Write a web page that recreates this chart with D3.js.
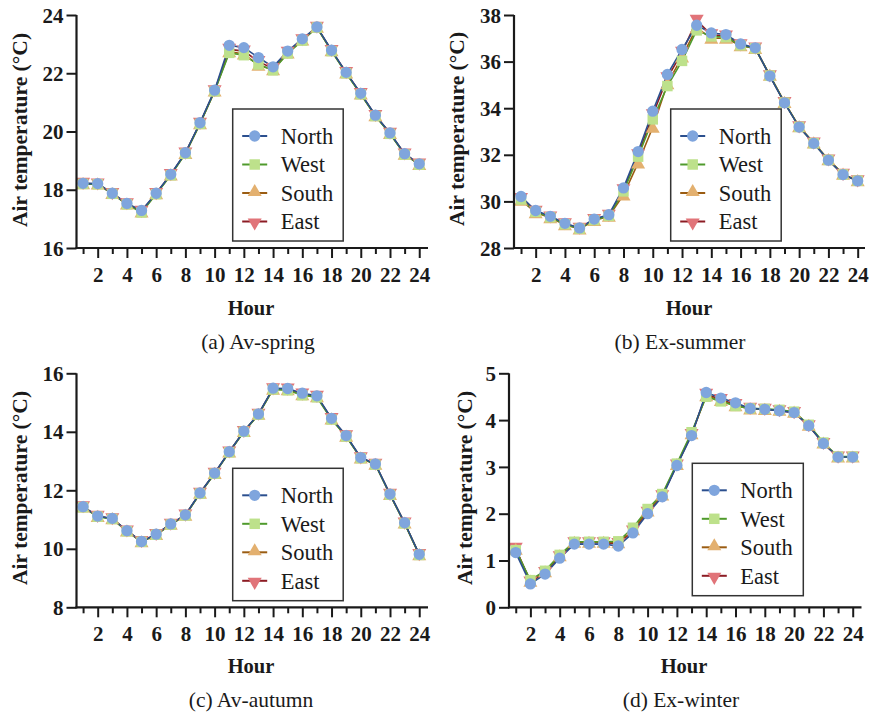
<!DOCTYPE html>
<html><head><meta charset="utf-8">
<script src="https://cdn.jsdelivr.net/npm/d3@7"></script>
<style>html,body{margin:0;padding:0;background:#fff;}</style></head>
<body>
<svg id="chart" width="869" height="718"></svg>
<script>
const hours = d3.range(1, 25);
const seriesNames = ["North", "West", "South", "East"];

// (a) Av-spring
const springNorth = [18.22,18.21,17.88,17.53,17.29,17.88,18.53,19.27,20.30,21.42,22.96,22.88,22.54,22.22,22.76,23.18,23.59,22.79,22.03,21.31,20.56,19.95,19.24,18.89];
const springWest  = [18.20,18.19,17.86,17.50,17.22,17.85,18.50,19.24,20.26,21.38,22.70,22.62,22.30,22.10,22.68,23.12,23.57,22.76,22.00,21.28,20.53,19.92,19.21,18.86];
const springSouth = [18.21,18.20,17.87,17.51,17.24,17.86,18.51,19.25,20.27,21.39,22.74,22.66,22.28,22.12,22.70,23.14,23.58,22.77,22.01,21.29,20.54,19.93,19.22,18.87];
const springEast  = [18.22,18.20,17.87,17.52,17.26,17.87,18.52,19.26,20.28,21.40,22.82,22.76,22.40,22.16,22.72,23.15,23.58,22.78,22.02,21.30,20.55,19.94,19.23,18.88];

// (b) Ex-summer
const summerNorth = [30.21,29.61,29.36,29.06,28.86,29.24,29.43,30.58,32.14,33.87,35.45,36.52,37.56,37.23,37.16,36.76,36.59,35.38,34.23,33.19,32.49,31.77,31.15,30.88];
const summerWest  = [30.08,29.55,29.32,29.02,28.83,29.20,29.38,30.43,31.92,33.52,34.95,36.03,37.34,37.08,37.05,36.70,36.57,35.40,34.24,33.20,32.50,31.78,31.16,30.89];
const summerSouth = [30.05,29.52,29.30,29.00,28.82,29.18,29.36,30.28,31.65,33.18,35.05,36.20,37.45,37.00,37.00,36.68,36.56,35.42,34.25,33.21,32.51,31.79,31.17,30.89];
const summerEast  = [30.12,29.57,29.33,29.04,28.85,29.22,29.40,30.50,32.00,33.72,35.30,36.40,37.77,37.15,37.10,36.72,36.58,35.39,34.24,33.20,32.50,31.78,31.16,30.88];

// (c) Av-autumn
const autumnNorth = [11.44,11.12,11.04,10.62,10.25,10.50,10.85,11.16,11.91,12.59,13.32,14.02,14.61,15.49,15.48,15.32,15.23,14.46,13.87,13.12,12.90,11.87,10.89,9.81];
const autumnWest  = [11.42,11.10,11.02,10.60,10.24,10.48,10.83,11.14,11.89,12.57,13.30,14.00,14.59,15.45,15.42,15.25,15.18,14.42,13.84,13.10,12.88,11.85,10.87,9.79];
const autumnSouth = [11.43,11.11,11.03,10.61,10.24,10.49,10.84,11.15,11.90,12.58,13.31,14.01,14.60,15.46,15.44,15.27,15.20,14.44,13.85,13.11,12.89,11.86,10.88,9.80];
const autumnEast  = [11.44,11.11,11.03,10.61,10.25,10.49,10.84,11.15,11.90,12.58,13.31,14.01,14.60,15.47,15.46,15.29,15.21,14.45,13.86,13.11,12.89,11.86,10.88,9.80];

// (d) Ex-winter
const winterNorth = [1.17,0.50,0.71,1.05,1.35,1.35,1.35,1.31,1.59,2.00,2.36,3.03,3.67,4.59,4.47,4.37,4.25,4.23,4.20,4.16,3.88,3.50,3.21,3.21];
const winterWest  = [1.22,0.58,0.78,1.12,1.40,1.40,1.40,1.41,1.70,2.10,2.42,3.07,3.74,4.50,4.40,4.30,4.25,4.24,4.22,4.18,3.90,3.52,3.22,3.22];
const winterSouth = [1.24,0.56,0.76,1.10,1.39,1.39,1.39,1.38,1.66,2.06,2.40,3.05,3.71,4.52,4.42,4.31,4.24,4.23,4.21,4.17,3.89,3.51,3.21,3.21];
const winterEast  = [1.26,0.54,0.74,1.08,1.38,1.38,1.38,1.36,1.63,2.03,2.38,3.04,3.69,4.55,4.44,4.33,4.25,4.23,4.20,4.16,3.88,3.50,3.21,3.21];

const springTicks = [16,18,20,22,24];
const summerTicks = [28,30,32,34,36,38];
const autumnTicks = [8,10,12,14,16];
const winterTicks = [0,1,2,3,4,5];

const captions = ["(a) Av-spring", "(b) Ex-summer", "(c) Av-autumn", "(d) Ex-winter"];
const yTitle = "Air temperature (\u00B0C)";
const xTitle = "Hour";

// styles
const FONT = "Liberation Serif";
const lineColors   = {North:"#2b4f8e", West:"#4f9a2c", South:"#9a5c12", East:"#8c1c24"};
const markerColors = {North:"#7fa5dd", West:"#bde18b", South:"#e3b06f", East:"#e17479"};
const markerShapes = {North:d3.symbolCircle, West:d3.symbolSquare, South:d3.symbolTriangle, East:d3.symbolTriangle};
const markerSizes  = {North:100, West:110, South:85, East:85};
const markerRot    = {North:0, West:0, South:0, East:180};

const panels = [
  {data:{North:springNorth,West:springWest,South:springSouth,East:springEast}, ticks:springTicks,
   xd:[0.55,24.6], xr:[76.5,428], yr:[248,15], ylab:[27,130], xlab:[251,315], cap:[258,349], tickY:282, legend:[232.7,109,110.5,132]},
  {data:{North:summerNorth,West:summerWest,South:summerSouth,East:summerEast}, ticks:summerTicks,
   xd:[0.52,24.5], xr:[514,865], yr:[248,15], ylab:[464,129], xlab:[689,315], cap:[680,349], tickY:282, legend:[670.7,109,110.5,132]},
  {data:{North:autumnNorth,West:autumnWest,South:autumnSouth,East:autumnEast}, ticks:autumnTicks,
   xd:[0.55,24.6], xr:[76.5,428], yr:[607.3,373.3], ylab:[27,488], xlab:[251,673], cap:[251,707], tickY:641, legend:[232.7,468.3,110.5,132.4]},
  {data:{North:winterNorth,West:winterWest,South:winterSouth,East:winterEast}, ticks:winterTicks,
   xd:[0.54,24.6], xr:[509,861.5], yr:[607.3,373.3], ylab:[471.5,488], xlab:[684,673], cap:[681,707], tickY:641, legend:[692.3,463.3,111,132.4]}
];

const svg = d3.select("#chart");
const axisColor = "#1a1a1a";

function styleText(sel, size, bold) {
  sel.style("font-family", FONT).style("font-size", size + "px")
     .style("font-weight", bold ? "bold" : "normal").style("fill", axisColor);
  return sel;
}

panels.forEach((p, i) => {
  const g = svg.append("g");
  const x = d3.scaleLinear().domain(p.xd).range(p.xr);
  const y = d3.scaleLinear().domain(d3.extent(p.ticks)).range(p.yr);

  const order = ["East","South","West","North"];
  const line = d3.line().x((d,j)=>x(hours[j])).y(d=>y(d));
  order.forEach(name => {
    g.append("path").datum(p.data[name])
      .attr("d", line).attr("fill","none")
      .attr("stroke", lineColors[name]).attr("stroke-width",1.6);
  });
  order.forEach(name => {
    const sym = d3.symbol().type(markerShapes[name]).size(markerSizes[name]);
    g.append("g").selectAll("path").data(p.data[name]).join("path")
      .attr("d", sym)
      .attr("transform",(d,j)=>`translate(${x(hours[j])},${y(d) + (name==="South"?1.5:name==="East"?-1.5:0)}) rotate(${markerRot[name]})`)
      .attr("fill", markerColors[name]);
  });

  // y axis
  const yAxis = g.append("g").attr("transform",`translate(${p.xr[0]},0)`)
    .call(d3.axisLeft(y).tickValues(p.ticks).tickFormat(d3.format("d")).tickSize(10).tickPadding(3).tickSizeOuter(0));
  yAxis.attr("font-family", null).attr("font-size", null);
  yAxis.select(".domain").attr("stroke",axisColor).attr("stroke-width",2.2)
    .attr("d",`M0,${p.yr[0]+1}V${p.yr[1]}`);
  yAxis.selectAll(".tick line").attr("stroke",axisColor).attr("stroke-width",2);
  styleText(yAxis.selectAll(".tick text"), 21, true).attr("dy","0.34em");

  // x axis
  const xAxis = g.append("g").attr("transform",`translate(0,${p.yr[0]})`)
    .call(d3.axisBottom(x).tickValues(hours).tickFormat(d=>d%2===0?d:"").tickSize(9).tickPadding(4).tickSizeOuter(0));
  xAxis.attr("font-family", null).attr("font-size", null);
  xAxis.select(".domain").attr("stroke",axisColor).attr("stroke-width",2.2)
    .attr("d",`M${p.xr[0]-1},0H${p.xr[1]}`);
  xAxis.selectAll(".tick line").attr("stroke",axisColor).attr("stroke-width",2)
    .attr("y2", d => d%2===0 ? 10 : 6);
  styleText(xAxis.selectAll(".tick text"), 21, true)
    .attr("y", p.tickY - p.yr[0]).attr("dy", null);

  // titles
  styleText(g.append("text"), 21.5, true)
    .attr("transform",`translate(${p.ylab[0]},${p.ylab[1]}) rotate(-90)`)
    .attr("text-anchor","middle").text(yTitle);
  styleText(g.append("text"), 20.5, true)
    .attr("x",p.xlab[0]).attr("y",p.xlab[1]).attr("text-anchor","middle").text(xTitle);
  styleText(g.append("text"), 21.5, false)
    .attr("x",p.cap[0]).attr("y",p.cap[1]).attr("text-anchor","middle").text(captions[i]);

  // legend
  const [lx,ly,lw,lh] = p.legend;
  const lg = g.append("g");
  lg.append("rect").attr("x",lx).attr("y",ly).attr("width",lw).attr("height",lh)
    .attr("fill","#fff").attr("stroke","#333").attr("stroke-width",1.5);
  seriesNames.forEach((name,k) => {
    const cy = ly + 27 + k*28.5;
    lg.append("line").attr("x1",lx+9.5).attr("x2",lx+34.5).attr("y1",cy).attr("y2",cy)
      .attr("stroke",lineColors[name]).attr("stroke-width",2);
    lg.append("path").attr("d", d3.symbol().type(markerShapes[name]).size(markerSizes[name])())
      .attr("transform",`translate(${lx+22},${cy + (name==="South"?-1:name==="East"?1:0)}) rotate(${markerRot[name]})`)
      .attr("fill",markerColors[name]);
    styleText(lg.append("text"), 22.5, false)
      .attr("x",lx+48).attr("y",cy).attr("dy","0.35em").text(name);
  });
});
</script>
</body></html>
